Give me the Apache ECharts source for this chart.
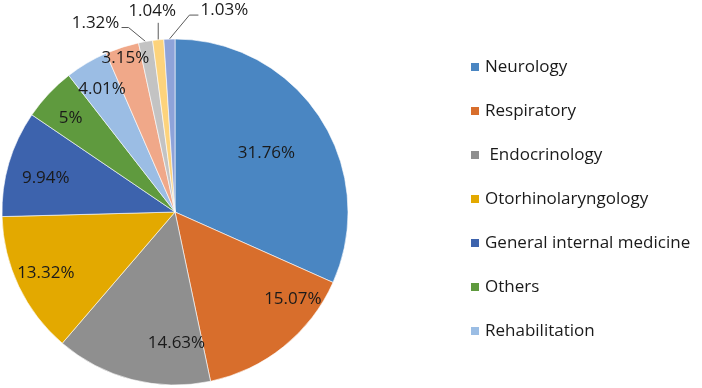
<!DOCTYPE html>
<html>
<head>
<meta charset="utf-8">
<script src="https://cdn.jsdelivr.net/npm/echarts@6/dist/echarts.min.js"></script>
<style>
  html, body { margin: 0; padding: 0; background: #fff; }
  #chart { width: 702px; height: 388px; }
</style>
</head>
<body>
<div id="chart"></div>
<script>
// departments, clockwise from 12 o'clock
const departments = ["Neurology", "Respiratory", " Endocrinology", "Otorhinolaryngology",
  "General internal medicine", "Others", "Rehabilitation", "Dept 8", "Dept 9", "Dept 10", "Dept 11"];
const shares = [31.76, 15.07, 14.63, 13.32, 9.94, 5, 4.01, 3.15, 1.32, 1.04, 1.03];
const sliceColors = ["#4a86c2", "#d86e2c", "#8f8f8f", "#e3a900", "#3d63ad", "#5f9a3e",
  "#9bbde4", "#f0a889", "#c3c3c3", "#fdd37c", "#8ea3d9"];
const legendNames = departments.slice(0, 7);

// which label ring each slice's percentage sits on
const labelRing = ["near", "mid", "mid", "mid", "mid", "mid", "mid", "far", "out", "out", "out"];

const chart = echarts.init(document.getElementById("chart"));

const center = [175, 212];
const labelFont = { fontSize: 17, color: "#1a1a1a", fontFamily: "Open Sans" };

// small nudges so inside labels sit where the original put them
const insideNudge = { 1: [28, -24], 2: [37, -7], 4: [8, 6], 5: [0, 4] };

// outside labels for the thin slices: offset from the arc point, and leader line shape
const outsideLabel = {
  8: { at: [-50, -18], line: [[-17, -14], [-24, -14]] },
  9: { at: [-6, -29], line: [[0, -17]] },
  10: { at: [55, -29], line: [[20, -24], [29, -24]] }
};

function labelSeries(ring, outer) {
  return {
    type: "pie",
    center: center,
    radius: [0, outer],
    startAngle: 90,
    silent: true,
    legendHoverLink: false,
    itemStyle: { color: "transparent", borderWidth: 0 },
    labelLine: { show: false },
    labelLayout: function (p) {
      const n = insideNudge[p.dataIndex];
      return n ? { dx: n[0], dy: n[1] } : {};
    },
    data: departments.map((name, i) => ({
      name: name,
      value: shares[i],
      label: {
        show: labelRing[i] === ring,
        position: "inside",
        formatter: "{c}%",
        ...labelFont
      }
    }))
  };
}

const option = {
  animation: false,
  color: sliceColors,
  legend: {
    data: legendNames,
    orient: "vertical",
    left: 464,
    top: 50,
    icon: "rect",
    itemWidth: 10,
    itemHeight: 10,
    itemGap: 20,
    textStyle: { fontSize: 17, color: "#1a1a1a", fontFamily: "Open Sans", lineHeight: 24 }
  },
  series: [
    {
      type: "pie",
      center: center,
      radius: [0, 173],
      startAngle: 90,
      itemStyle: { borderColor: "#ffffff", borderWidth: 0.6 },
      label: { show: false },
      labelLine: { lineStyle: { color: "#595959", width: 1 }, length: 12, length2: 8 },
      labelLayout: function (p) {
        const o = outsideLabel[p.dataIndex];
        if (!o || !p.labelLinePoints) return {};
        const a = p.labelLinePoints[0];
        return {
          x: a[0] + o.at[0],
          y: a[1] + o.at[1],
          align: "center",
          verticalAlign: "middle",
          labelLinePoints: [a].concat(o.line.map(q => [a[0] + q[0], a[1] + q[1]]))
        };
      },
      data: departments.map((name, i) => ({
        name: name,
        value: shares[i],
        label: {
          show: labelRing[i] === "out",
          position: "outside",
          overflow: "none",
          width: 80,
          formatter: "{c}%",
          ...labelFont
        },
        labelLine: { show: labelRing[i] === "out" }
      }))
    },
    labelSeries("near", 212),
    labelSeries("mid", 280),
    labelSeries("far", 318)
  ]
};

chart.setOption(option);
</script>
</body>
</html>
